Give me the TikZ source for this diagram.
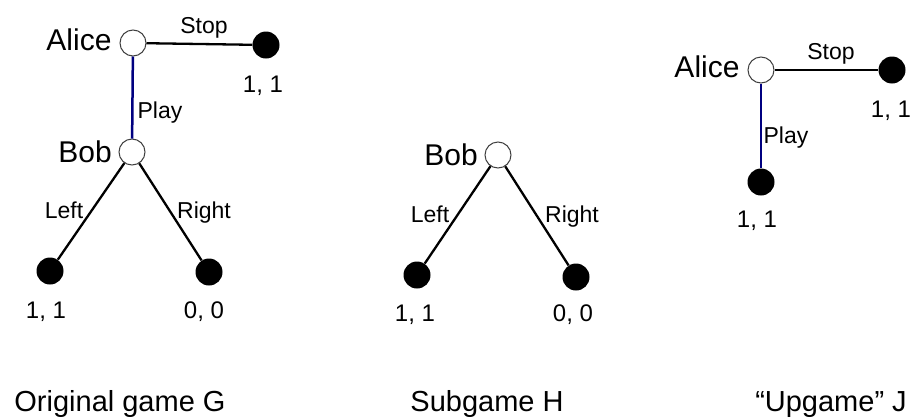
\documentclass[tikz,border=0pt]{standalone}
\usepackage{fontspec}
\setmainfont{Liberation Sans}
\definecolor{playblue}{RGB}{0,0,128}
\tikzset{%
  % Specifications for style of nodes:
        player/.style = {circle, draw=black!75, line width=1pt, fill=white,
                         minimum size=26pt, inner sep=0pt},
      terminal/.style = {circle, fill=black, minimum size=27pt, inner sep=0pt},
          base/.style = {inner sep=0pt, anchor=base},
    playername/.style = {base, font=\fontsize{30}{36}\selectfont},
      movename/.style = {base, font=\fontsize{23}{28}\selectfont},
        payoff/.style = {base, font=\fontsize{24}{29}\selectfont},
     gamelabel/.style = {base, font=\fontsize{29}{35}\selectfont},
  % Specifications for style of branches:
        branch/.style = {draw=black, line width=2.3pt},
    playbranch/.style = {draw=playblue, line width=2.5pt},
}

\begin{document}
\begin{tikzpicture}[x=1pt, y=-1pt]
  \useasboundingbox (0,0) rectangle (914,418);

  % Original game G
  \node (aliceG)   [player]   at (133,43)  {};
  \node (stopG)    [terminal] at (266,45)  {};
  \node (bobG)     [player]   at (132,152) {};
  \node (leftG)    [terminal] at (50,271)  {};
  \node (rightG)   [terminal] at (209,272) {};

  \draw[branch]     (aliceG) -- (stopG);
  \draw[playbranch] (aliceG) -- (bobG);
  \draw[branch]       (bobG) -- (leftG);
  \draw[branch]       (bobG) -- (rightG);

  \node (aliceGname) [playername] at (79,50)  {Alice};
  \node (bobGname)   [playername] at (85,162) {Bob};
  \node (stopGlbl)   [movename]   at (204,33) {Stop};
  \node (playGlbl)   [movename]   at (160,118) {Play};
  \node (leftGlbl)   [movename]   at (64,218) {Left};
  \node (rightGlbl)  [movename]   at (204,218) {Right};
  \node (stopGpay)   [payoff]     at (263,92) {1, 1};
  \node (leftGpay)   [payoff]     at (46,318) {1, 1};
  \node (rightGpay)  [payoff]     at (204,318) {0, 0};

  % Subgame H
  \node (bobH)     [player]   at (498,155) {};
  \node (leftH)    [terminal] at (417,275) {};
  \node (rightH)   [terminal] at (576,277) {};

  \draw[branch]       (bobH) -- (leftH);
  \draw[branch]       (bobH) -- (rightH);

  \node (bobHname)   [playername] at (451,165) {Bob};
  \node (leftHlbl)   [movename]   at (430,222) {Left};
  \node (rightHlbl)  [movename]   at (572,222) {Right};
  \node (leftHpay)   [payoff]     at (415,321) {1, 1};
  \node (rightHpay)  [payoff]     at (573,321) {0, 0};

  % "Upgame" J
  \node (aliceJ)   [player]   at (761,70)  {};
  \node (stopJ)    [terminal] at (892,70)  {};
  \node (playJ)    [terminal] at (761,182) {};

  \draw[branch]     (aliceJ) -- (stopJ);
  \draw[playbranch] (aliceJ) -- (playJ);

  \node (aliceJname) [playername] at (707,77)  {Alice};
  \node (stopJlbl)   [movename]   at (831,59)  {Stop};
  \node (playJlbl)   [movename]   at (786,143) {Play};
  \node (stopJpay)   [payoff]     at (891,117) {1, 1};
  \node (playJpay)   [payoff]     at (757,227) {1, 1};

  % captions
  \node (capG) [gamelabel] at (120,411) {Original game G};
  \node (capH) [gamelabel] at (487,411) {Subgame H};
  \node (capJ) [gamelabel] at (831,411) {“Upgame” J};
\end{tikzpicture}
\end{document}
